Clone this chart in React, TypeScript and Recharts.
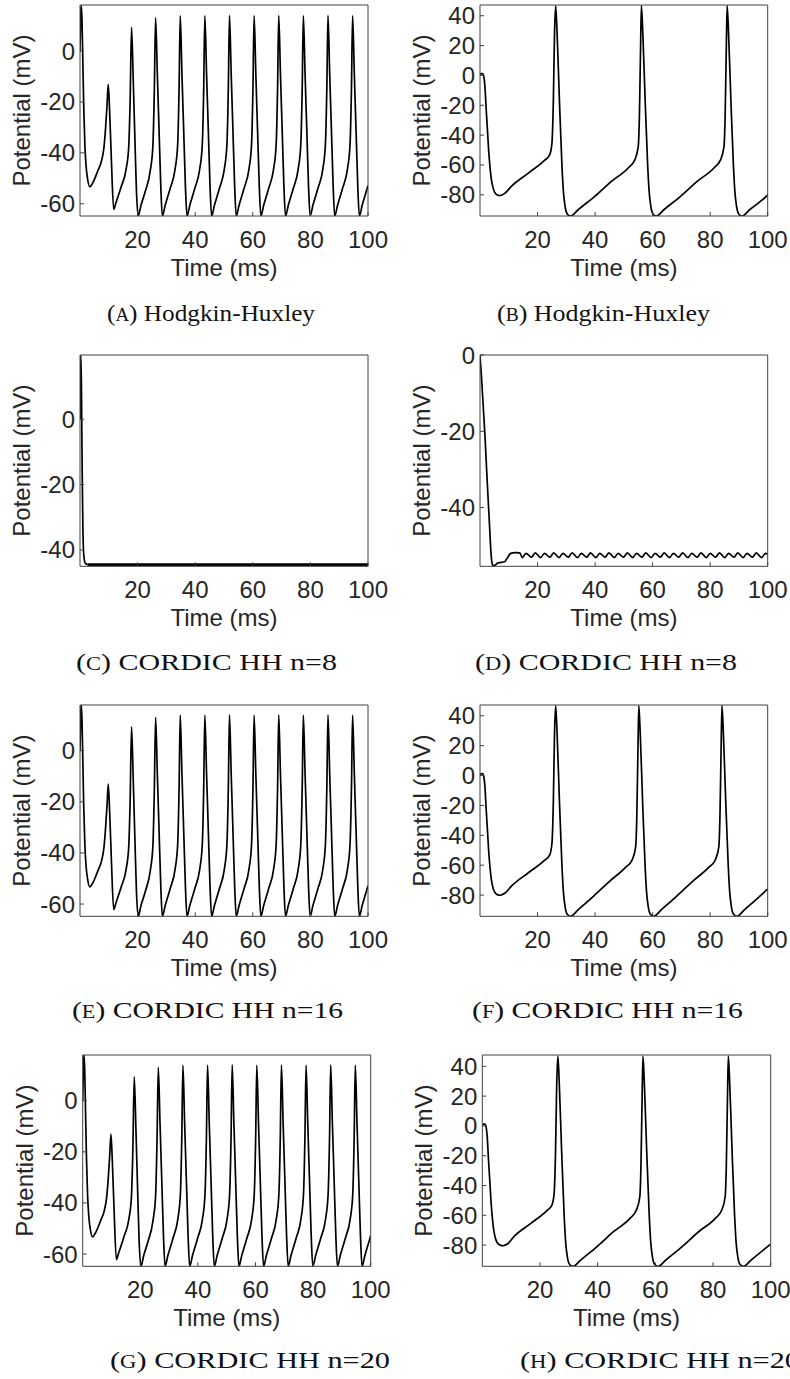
import React from 'react';
import { LineChart, Line, XAxis, YAxis, Label } from 'recharts';

// ---- axis ticks -------------------------------------------------------
const timeTicks = [20, 40, 60, 80, 100];
const regularTicks = [-60, -40, -20, 0];
const slowTicks = [-80, -60, -40, -20, 0, 20, 40];
const cordic8aTicks = [-40, -20, 0];
const cordic8bTicks = [-40, -20, 0];

// ---- membrane potential traces, [time (ms), potential (mV)] -------------
// Regular tonic firing (Hodgkin-Huxley reference; CORDIC n=16 and n=20 overlay it)
const hhRegular: number[][] = [
  [0, 0], [0.25, 15], [0.45, 18], [0.7, 12], [1.0, -5], [1.3, -22], [1.7, -37], [2.1, -45], [2.6, -50], [3.4, -53.3],
  [4.5, -51.6], [6.2, -47], [7.5, -43], [8.3, -38], [8.9, -30], [9.4, -21], [9.8, -13.1],
  [10.3, -24], [10.9, -42.8], [11.7, -62.2],
  [12.5, -59.5], [14.3, -53.3], [16.0, -46.5], [16.9, -38], [17.4, -20], [17.9, 9.3],
  [18.5, -12], [19.1, -36], [19.6, -55], [20.2, -64.8],
  [21.2, -60.5], [22.7, -55], [24.4, -47], [25.3, -37.5], [25.8, -16], [26.25, 13.1],
  [26.85, -9], [27.45, -31], [28.05, -53], [28.6, -64.8],
  [29.6, -60.5], [31.3, -54], [33.0, -46.5], [33.9, -37], [34.4, -15], [34.8, 13.9],
  [35.4, -9], [36.0, -31], [36.6, -53], [37.15, -64.8],
  [38.15, -60.5], [39.85, -54], [41.55, -46.5], [42.45, -37], [42.95, -15], [43.35, 13.9],
  [43.95, -9], [44.55, -31], [45.15, -53], [45.7, -64.8],
  [46.7, -60.5], [48.4, -54], [50.1, -46.5], [51.0, -37], [51.5, -15], [51.9, 14.0],
  [52.5, -9], [53.1, -31], [53.7, -53], [54.25, -64.8],
  [55.25, -60.5], [56.95, -54], [58.65, -46.5], [59.55, -37], [60.05, -15], [60.45, 13.9],
  [61.05, -9], [61.65, -31], [62.25, -53], [62.8, -64.8],
  [63.8, -60.5], [65.5, -54], [67.2, -46.5], [68.1, -37], [68.6, -15], [69.0, 14.0],
  [69.6, -9], [70.2, -31], [70.8, -53], [71.35, -64.8],
  [72.35, -60.5], [74.05, -54], [75.75, -46.5], [76.65, -37], [77.15, -15], [77.55, 13.9],
  [78.15, -9], [78.75, -31], [79.35, -53], [79.9, -64.8],
  [80.9, -60.5], [82.6, -54], [84.3, -46.5], [85.2, -37], [85.7, -15], [86.1, 14.0],
  [86.7, -9], [87.3, -31], [87.9, -53], [88.45, -64.8],
  [89.45, -60.5], [91.15, -54], [92.85, -46.5], [93.75, -37], [94.25, -15], [94.65, 13.9],
  [95.25, -9], [95.85, -31], [96.45, -53], [97.0, -64.8],
  [98.0, -60.5], [99.7, -54], [100, -52.8],
];

// Slow firing, Hodgkin-Huxley reference
const hhSlow: number[][] = [
  [0, 0.5], [0.4, 1.2], [0.9, 1.3], [1.3, -0.5], [1.7, -7], [2.1, -21], [2.6, -37], [3.0, -50], [3.5, -62], [3.9, -69],
  [4.5, -75], [5.1, -78.3], [6.0, -80.1], [6.85, -80.5],
  [8.5, -79.2], [10.9, -74.3], [16.7, -65.6], [22.5, -56.8], [24.2, -53.3], [25.0, -45.5], [25.5, -16.5], [25.9, 28], [26.3, 46.8],
  [26.8, 28], [27.6, -16.5], [28.5, -61], [29.0, -78], [29.6, -88], [30.4, -93], [31.5, -94.2],
  [34.1, -90], [39.9, -81], [45.7, -71], [51.5, -62], [53.8, -56.6], [55.0, -47.7], [55.4, -27.7], [55.8, 17], [56.1, 46.8],
  [56.6, 28], [57.4, -16.5], [58.3, -61], [58.8, -78], [59.4, -88], [60.2, -93], [61.3, -94.2],
  [63.9, -90], [69.7, -81], [75.5, -71], [81.3, -62], [83.6, -56.6], [84.8, -47.7], [85.2, -27.7], [85.6, 17], [85.9, 46.8],
  [86.4, 28], [87.2, -16.5], [88.1, -61], [88.6, -78], [89.2, -88], [90.0, -93], [91.1, -94.2],
  [93.7, -90], [99.5, -81], [100, -80],
];

// CORDIC n=8: decays to a flat resting level
const cordic8Transient: number[][] = [
  [0, 0], [0.15, 14], [0.3, 19.7], [0.5, 10], [0.75, -15], [1.0, -33], [1.3, -41.5], [1.8, -44], [2.6, -44.5],
];
const cordic8Plateau: number[][] = [
  [2.6, -44.5], [100, -44.5],
];

// CORDIC n=8, slow parameter set: sub-threshold ripple
const cordic8Ripple: number[][] = [
  [0, 0], [0.5, -5.5], [1.2, -14.5], [1.74, -21.3], [2.3, -30], [2.9, -38.8], [3.4, -46], [3.83, -52], [4.2, -54.6],
  [4.6, -55.3], [5.2, -55.1], [6.3, -54.5], [8.6, -54.2], [9.5, -53.2], [10.7, -52.0], [12.1, -51.8], [13.8, -51.9],
  [14.7, -53.1], [16.0, -52.0], [17.9, -53.0], [19.2, -51.9], [21.1, -53.1], [22.4, -52.0], [24.3, -53.0], [25.6, -51.9],
  [27.5, -53.1], [28.8, -52.0], [30.7, -53.0], [32.0, -51.9], [33.9, -53.1], [35.2, -52.0], [37.1, -53.0], [38.4, -51.9],
  [40.3, -53.1], [41.6, -52.0], [43.5, -53.0], [44.8, -51.9], [46.7, -53.1], [48.0, -52.0], [49.9, -53.0], [51.2, -51.9],
  [53.1, -53.1], [54.4, -52.0], [56.3, -53.0], [57.6, -51.9], [59.5, -53.1], [60.8, -52.0], [62.7, -53.0], [64.0, -51.9],
  [65.9, -53.1], [67.2, -52.0], [69.1, -53.0], [70.4, -51.9], [72.3, -53.1], [73.6, -52.0], [75.5, -53.0], [76.8, -51.9],
  [78.7, -53.1], [80.0, -52.0], [81.9, -53.0], [83.2, -51.9], [85.1, -53.1], [86.4, -52.0], [88.3, -53.0], [89.6, -51.9],
  [91.5, -53.1], [92.8, -52.0], [94.7, -53.0], [96.0, -51.9], [97.9, -53.1], [99.2, -52.0], [100, -52.3],
];

// CORDIC n=16, slow parameter set
const cordic16Slow: number[][] = [
  [0, 0.5], [0.4, 1.2], [0.9, 1.3], [1.3, -0.5], [1.7, -7], [2.1, -21], [2.6, -37], [3.0, -50], [3.5, -62], [3.9, -69],
  [4.5, -75], [5.1, -78], [6.0, -79.7], [7.0, -80.1],
  [8.6, -78.8], [11.0, -73.8], [16.7, -65.2], [22.5, -56.6], [24.2, -53.3], [25.0, -45.5], [25.5, -16.5], [25.9, 28], [26.3, 46.8],
  [26.8, 28], [27.6, -16.5], [28.5, -61], [29.0, -78], [29.6, -88], [30.4, -93], [31.5, -94.2],
  [34.0, -90], [39.6, -80.5], [45.2, -70.5], [50.6, -61.5], [52.9, -56.4], [54.1, -47.7], [54.5, -27.7], [54.9, 17], [55.2, 46.8],
  [55.7, 28], [56.5, -16.5], [57.4, -61], [57.9, -78], [58.5, -88], [59.3, -93], [60.4, -94.2],
  [62.9, -90], [68.5, -80.5], [74.1, -70.5], [79.5, -61.5], [81.8, -56.4], [83.0, -47.7], [83.4, -27.7], [83.8, 17], [84.1, 46.8],
  [84.6, 28], [85.4, -16.5], [86.3, -61], [86.8, -78], [87.4, -88], [88.2, -93], [89.3, -94.2],
  [91.8, -90], [97.4, -80.5], [100, -75.8],
];

// CORDIC n=20, slow parameter set
const cordic20Slow: number[][] = [
  [0, 0.5], [0.4, 1.2], [0.9, 1.3], [1.3, -0.5], [1.7, -7], [2.1, -21], [2.6, -37], [3.0, -50], [3.5, -62], [3.9, -69],
  [4.5, -75], [5.2, -78.4], [6.2, -80], [7.2, -80.4],
  [8.8, -79.1], [11.0, -74.2], [16.7, -65.6], [22.4, -56.8], [24.1, -53.3], [24.9, -45.5], [25.4, -16.5], [25.8, 28], [26.2, 46.8],
  [26.7, 28], [27.5, -16.5], [28.4, -61], [28.9, -78], [29.5, -88], [30.3, -93], [31.5, -94.2],
  [34.1, -90], [39.8, -81], [45.5, -71], [51.2, -62], [53.4, -56.6], [54.6, -47.7], [55.0, -27.7], [55.4, 17], [55.7, 46.8],
  [56.2, 28], [57.0, -16.5], [57.9, -61], [58.4, -78], [59.0, -88], [59.8, -93], [61.0, -94.2],
  [63.6, -90], [69.3, -81], [75.0, -71], [80.8, -62], [83.0, -56.6], [84.2, -47.7], [84.6, -27.7], [85.0, 17], [85.3, 46.8],
  [85.8, 28], [86.6, -16.5], [87.5, -61], [88.0, -78], [88.6, -88], [89.4, -93], [90.6, -94.2],
  [93.2, -90], [98.9, -81], [100, -79.3],
];

// ---- styling ------------------------------------------------------------
const SANS = "'Liberation Sans', Arial, Helvetica, sans-serif";
const SERIF = "'Liberation Serif', 'Times New Roman', serif";
const TEXT = '#262626';
const FRAME = '#404040';

const rows = (pairs: number[][]) => pairs.map(([t, v]) => ({ t, v }));

type Series = { points: number[][]; width?: number };
type PanelSpec = {
  id: string;
  col: number;
  plot: { x0: number; x1: number; y0: number; y1: number };
  yDomain: [number, number];
  yTicks: number[];
  series: Series[];
};

const panels: PanelSpec[] = [
  { id: 'a', col: 0, plot: { x0: 80, x1: 368, y0: 5, y1: 216 }, yDomain: [-64.8, 18.1], yTicks: regularTicks, series: [{ points: hhRegular }] },
  { id: 'b', col: 1, plot: { x0: 480, x1: 767.7, y0: 5, y1: 216 }, yDomain: [-94.2, 47.2], yTicks: slowTicks, series: [{ points: hhSlow }] },
  { id: 'c', col: 0, plot: { x0: 80, x1: 368, y0: 355, y1: 566.3 }, yDomain: [-45, 19.7], yTicks: cordic8aTicks, series: [{ points: cordic8Transient }, { points: cordic8Plateau, width: 3 }] },
  { id: 'd', col: 1, plot: { x0: 480, x1: 767.7, y0: 355, y1: 566.3 }, yDomain: [-55.4, 0], yTicks: cordic8bTicks, series: [{ points: cordic8Ripple }] },
  { id: 'e', col: 0, plot: { x0: 80, x1: 368, y0: 705, y1: 916.3 }, yDomain: [-64.8, 17.9], yTicks: regularTicks, series: [{ points: hhRegular }] },
  { id: 'f', col: 1, plot: { x0: 480, x1: 767.7, y0: 705, y1: 916.3 }, yDomain: [-94.2, 47.2], yTicks: slowTicks, series: [{ points: cordic16Slow }] },
  { id: 'g', col: 0, plot: { x0: 82.7, x1: 370.7, y0: 1055, y1: 1266.3 }, yDomain: [-64.8, 17.9], yTicks: regularTicks, series: [{ points: hhRegular }] },
  { id: 'h', col: 1, plot: { x0: 482.3, x1: 770.7, y0: 1055, y1: 1266.3 }, yDomain: [-94.2, 47.6], yTicks: slowTicks, series: [{ points: cordic20Slow }] },
];

const captions = [
  { tag: 'A', text: 'Hodgkin-Huxley', x: 107, y: 321, w: 208 },
  { tag: 'B', text: 'Hodgkin-Huxley', x: 497, y: 321, w: 213 },
  { tag: 'C', text: 'CORDIC HH n=8', x: 76, y: 670, w: 261 },
  { tag: 'D', text: 'CORDIC HH n=8', x: 475, y: 670, w: 262 },
  { tag: 'E', text: 'CORDIC HH n=16', x: 72, y: 1018, w: 271 },
  { tag: 'F', text: 'CORDIC HH n=16', x: 472, y: 1018, w: 271 },
  { tag: 'G', text: 'CORDIC HH n=20', x: 110, y: 1368, w: 280 },
  { tag: 'H', text: 'CORDIC HH n=20', x: 520, y: 1368, w: 280 },
];

const tickFont = { fontSize: 24, fill: TEXT, fontFamily: SANS };

// Axis boxes are 1px thick so they stay rendered; margins absorb that pixel.
const AXIS_PX = 1;

const TimeTitle = (props: any) => {
  const vb = props.viewBox || {};
  const cx = vb.x + vb.width / 2;
  const cy = vb.y + 60;
  return (
    <text x={cx} y={cy} textAnchor="middle" fontSize={24} fill={TEXT} fontFamily={SANS}>
      Time (ms)
    </text>
  );
};

const PotentialTitle = (props: any) => {
  const vb = props.viewBox || {};
  const cx = vb.x + vb.width - 50;
  const cy = vb.y + vb.height / 2;
  return (
    <text x={cx} y={cy} transform={`rotate(-90 ${cx} ${cy})`} textAnchor="middle" fontSize={24} fill={TEXT} fontFamily={SANS}>
      Potential (mV)
    </text>
  );
};

const Panel = ({ spec }: { spec: PanelSpec }) => {
  const W = 395;
  const H = 310;
  const cellLeft = spec.col === 0 ? 0 : 395;
  const cellTop = spec.plot.y0 - 20;
  const plotH = spec.plot.y1 - spec.plot.y0;
  const margin = {
    left: spec.plot.x0 - cellLeft - AXIS_PX,
    right: cellLeft + W - spec.plot.x1 - AXIS_PX,
    top: 20 - AXIS_PX,
    bottom: H - 20 - plotH - AXIS_PX,
  };
  return (
    <div style={{ position: 'absolute', left: cellLeft, top: cellTop, width: W, height: H }}>
      <LineChart width={W} height={H} margin={margin}>
        <XAxis
          xAxisId="bottom"
          type="number"
          dataKey="t"
          domain={[0, 100]}
          allowDataOverflow
          ticks={timeTicks}
          interval={0}
          height={AXIS_PX}
          tickSize={-4}
          tickMargin={19}
          tick={tickFont}
          stroke={FRAME}
        >
          <Label content={<TimeTitle />} />
        </XAxis>
        <XAxis
          xAxisId="top"
          orientation="top"
          type="number"
          dataKey="t"
          domain={[0, 100]}
          allowDataOverflow
          ticks={timeTicks}
          interval={0}
          height={AXIS_PX}
          tickSize={-4}
          tick={false}
          stroke={FRAME}
        />
        <YAxis
          yAxisId="left"
          type="number"
          domain={spec.yDomain}
          allowDataOverflow
          ticks={spec.yTicks}
          interval={0}
          width={AXIS_PX}
          tickSize={-4}
          tickMargin={9}
          tick={tickFont}
          stroke={FRAME}
        >
          <Label content={<PotentialTitle />} />
        </YAxis>
        <YAxis
          yAxisId="right"
          orientation="right"
          type="number"
          domain={spec.yDomain}
          allowDataOverflow
          ticks={spec.yTicks}
          interval={0}
          width={AXIS_PX}
          tickSize={-4}
          tick={false}
          stroke={FRAME}
        />
        {spec.series.map((s, i) => (
          <Line
            key={i}
            xAxisId="bottom"
            yAxisId="left"
            data={rows(s.points)}
            dataKey="v"
            type="monotone"
            stroke="#000"
            strokeWidth={s.width ?? 1.7}
            dot={false}
            activeDot={false}
            isAnimationActive={false}
          />
        ))}
      </LineChart>
    </div>
  );
};

export default function App() {
  return (
    <div
      style={{
        position: 'absolute',
        left: 0,
        top: 0,
        width: 790,
        height: 1379,
        overflow: 'hidden',
        background: '#fff',
      }}
    >
      {panels.map((p) => (
        <Panel key={p.id} spec={p} />
      ))}
      <svg width={790} height={1379} style={{ position: 'absolute', left: 0, top: 0, pointerEvents: 'none' }}>
        {captions.map((c) => (
          <text
            key={c.tag}
            x={c.x}
            y={c.y}
            fontFamily={SERIF}
            fontSize={24}
            fill="#111"
            textLength={c.w}
            lengthAdjust="spacingAndGlyphs"
          >
            (<tspan fontSize={18}>{c.tag}</tspan>) {c.text}
          </text>
        ))}
      </svg>
    </div>
  );
}
